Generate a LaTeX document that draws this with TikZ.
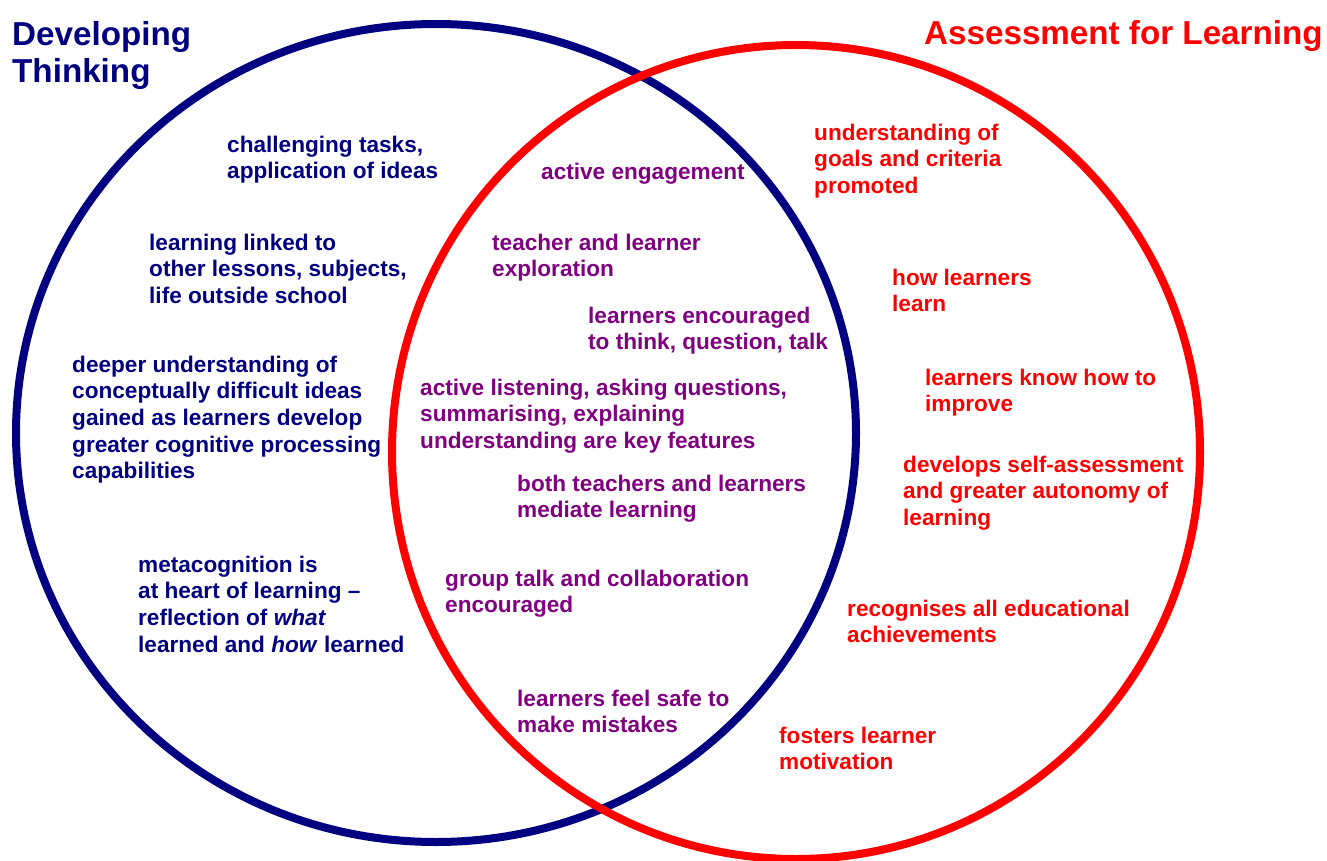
\documentclass[tikz,border=0pt]{standalone}
\usepackage{fontspec}
\setmainfont{Liberation Sans}
\definecolor{dtblue}{RGB}{0,0,128}
\definecolor{afred}{RGB}{255,0,0}
\definecolor{mixpurple}{RGB}{128,0,128}
\begin{document}
\begin{tikzpicture}[x=1pt,y=-1pt,
  body/.style={anchor=north west,inner sep=0pt,align=left,yshift=18.62pt,
    font=\fontsize{22.6}{26.6}\selectfont\bfseries},
  title/.style={anchor=north west,inner sep=0pt,align=left,yshift=26.39pt,
    font=\fontsize{33.2}{37.7}\selectfont\bfseries},
  dt/.style={text=dtblue},
  af/.style={text=afred},
  mix/.style={text=mixpurple},
  ring/.style={line width=8pt}]
\useasboundingbox (0,0) rectangle (1327,861);
\draw[ring,dtblue] (436,433) ellipse [x radius=420, y radius=409];
\draw[ring,afred] (796,452) ellipse [x radius=404, y radius=407];
% titles
\node[title,dt] (tdt) at (12,45) {\strut Developing\\Thinking};
\node[title,af] (taf) at (924,44) {\strut Assessment for Learning};
% developing thinking
\node[body,dt] (d1) at (227,152) {\strut challenging tasks,\\application of ideas};
\node[body,dt] (d2) at (149,250) {\strut learning linked to\\other lessons, subjects,\\life outside school};
\node[body,dt] (d3) at (72,372) {\strut deeper understanding of\\conceptually difficult ideas\\gained as learners develop\\greater cognitive processing\\capabilities};
\node[body,dt] (d4) at (138,572) {\strut metacognition is\\at heart of learning –\\reflection of \textit{what}\\learned and \textit{how} learned};
% overlap
\node[body,mix] (m1) at (541,179) {\strut active engagement};
\node[body,mix] (m2) at (492,250) {\strut teacher and learner\\exploration};
\node[body,mix] (m3) at (588,323) {\strut learners encouraged\\to think, question, talk};
\node[body,mix] (m4) at (420,395) {\strut active listening, asking questions,\\summarising, explaining\\understanding are key features};
\node[body,mix] (m5) at (517,491) {\strut both teachers and learners\\mediate learning};
\node[body,mix] (m6) at (445,586) {\strut group talk and collaboration\\encouraged};
\node[body,mix] (m7) at (517,706) {\strut learners feel safe to\\make mistakes};
% assessment for learning
\node[body,af] (a1) at (814,140) {\strut understanding of\\goals and criteria\\promoted};
\node[body,af] (a2) at (892,285) {\strut how learners\\learn};
\node[body,af] (a3) at (925,385) {\strut learners know how to\\improve};
\node[body,af] (a4) at (903,472) {\strut develops self-assessment\\and greater autonomy of\\learning};
\node[body,af] (a5) at (847,616) {\strut recognises all educational\\achievements};
\node[body,af] (a6) at (779,743) {\strut fosters learner\\motivation};
\end{tikzpicture}
\end{document}
